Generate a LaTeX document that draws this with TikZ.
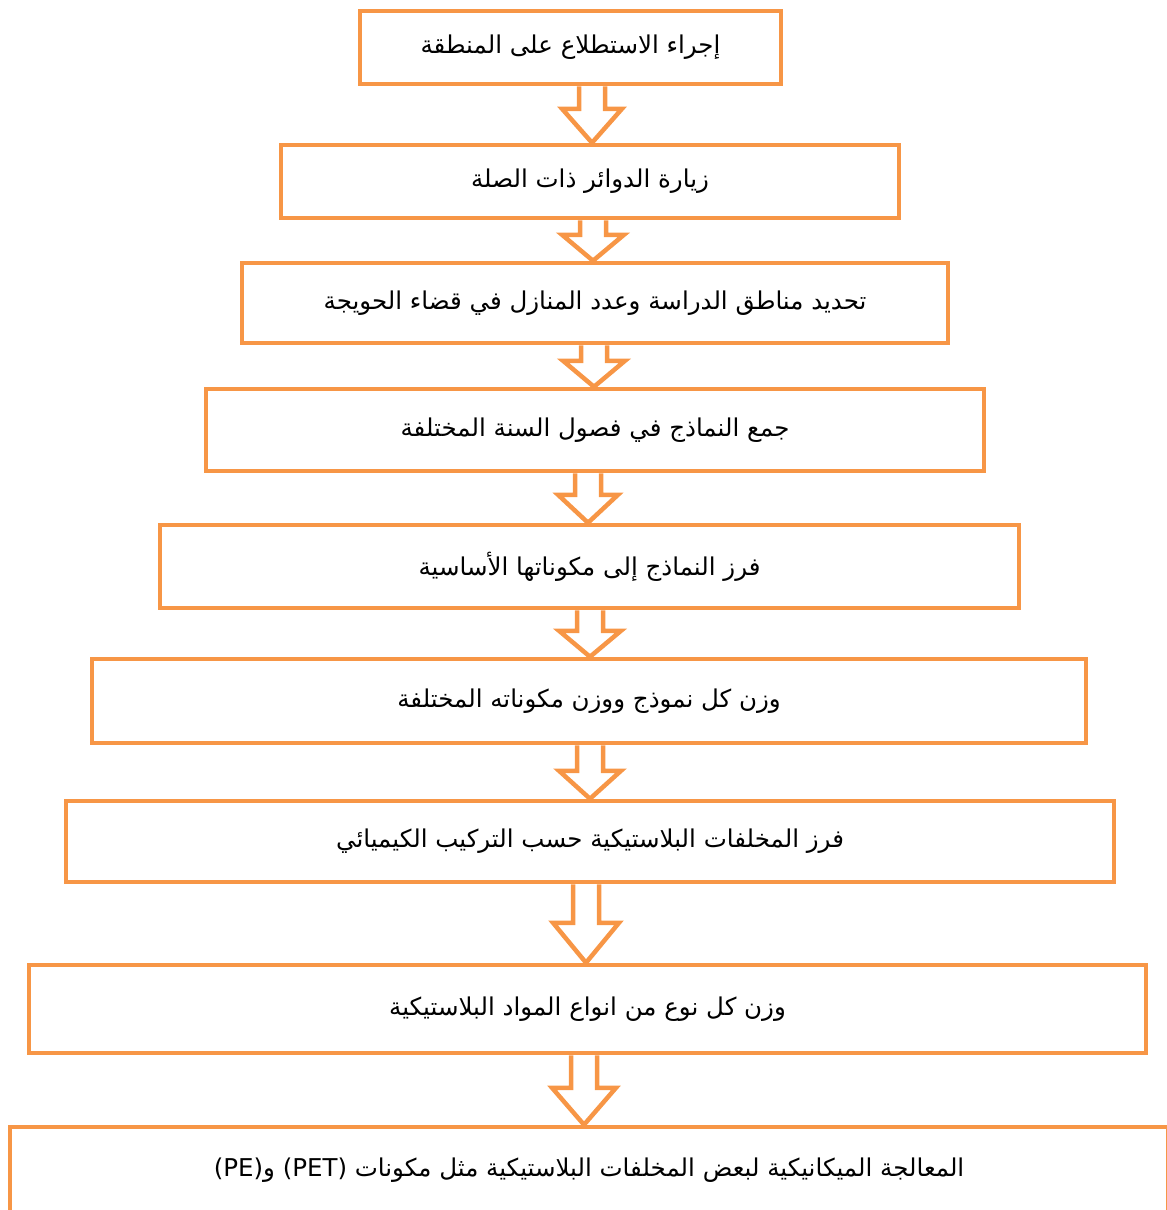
\documentclass[tikz,border=0pt]{standalone}
\usepackage{fontspec}
\newfontfamily\arabicfont[Script=Arabic]{DejaVu Sans}
\TeXXeTstate=1
\usetikzlibrary{calc}

\definecolor{boxorange}{HTML}{F79646}

\newcommand{\artext}[1]{\beginR #1\endR}
% hollow block arrow: from, to, x, head length, head half width
\newcommand{\flowarrow}[5]{%
  \coordinate (top) at (#3,0 |- #1.south);
  \coordinate (tip) at (#3,0 |- #2.north);
  \draw[hollow] ([xshift=-13pt]top) -- ([xshift=-13pt,yshift=#4pt]tip)
    -- ([xshift=-#5pt,yshift=#4pt]tip) -- (tip)
    -- ([xshift=#5pt,yshift=#4pt]tip) -- ([xshift=13pt,yshift=#4pt]tip)
    -- ([xshift=13pt]top);
}

\begin{document}
\begin{tikzpicture}[
        x=1pt, y=-1pt,
        stepbox/.style={
          draw=boxorange,
          line width=4.5pt,
          inner sep=0pt,
          font=\arabicfont\fontsize{24.5}{29}\selectfont
        },
        hollow/.style={
          draw=boxorange,
          line width=4.5pt,
          line join=miter
        }
      ]
      \useasboundingbox (0,0) rectangle (1167,1210);

      % Boxes
      \node[stepbox, minimum width=421, minimum height=73] (b1) at (570.5,47.5)
        {\artext{إجراء الاستطلاع على المنطقة}};
      \node[stepbox, minimum width=618, minimum height=73] (b2) at (590,181.5)
        {\artext{زيارة الدوائر ذات الصلة}};
      \node[stepbox, minimum width=706, minimum height=80] (b3) at (595,303)
        {\artext{تحديد مناطق الدراسة وعدد المنازل في قضاء الحويجة}};
      \node[stepbox, minimum width=778, minimum height=82] (b4) at (595,430)
        {\artext{جمع النماذج في فصول السنة المختلفة}};
      \node[stepbox, minimum width=859, minimum height=83] (b5) at (589.5,566.5)
        {\artext{فرز النماذج إلى مكوناتها الأساسية}};
      \node[stepbox, minimum width=994, minimum height=84] (b6) at (589,701)
        {\artext{وزن كل نموذج ووزن مكوناته المختلفة}};
      \node[stepbox, minimum width=1048, minimum height=81] (b7) at (590,841.5)
        {\artext{فرز المخلفات البلاستيكية حسب التركيب الكيميائي}};
      \node[stepbox, minimum width=1117, minimum height=88] (b8) at (587.5,1009)
        {\artext{وزن كل نوع من انواع المواد البلاستيكية}};
      \node[stepbox, minimum width=1158, minimum height=86] (b9) at (589,1170)
        {\artext{المعالجة الميكانيكية لبعض المخلفات البلاستيكية مثل مكونات \beginL(PET)\endL{} و\beginL(PE)\endL}};

      % Arrows
      \flowarrow{b1}{b2}{592}{34}{30}
      \flowarrow{b2}{b3}{593}{26}{31}
      \flowarrow{b3}{b4}{594}{26}{31}
      \flowarrow{b4}{b5}{588}{28}{30}
      \flowarrow{b5}{b6}{590}{26}{31}
      \flowarrow{b6}{b7}{590}{28}{31}
      \flowarrow{b7}{b8}{586}{40}{33}
      \flowarrow{b8}{b9}{584}{37}{32}

    \end{tikzpicture}
\end{document}
